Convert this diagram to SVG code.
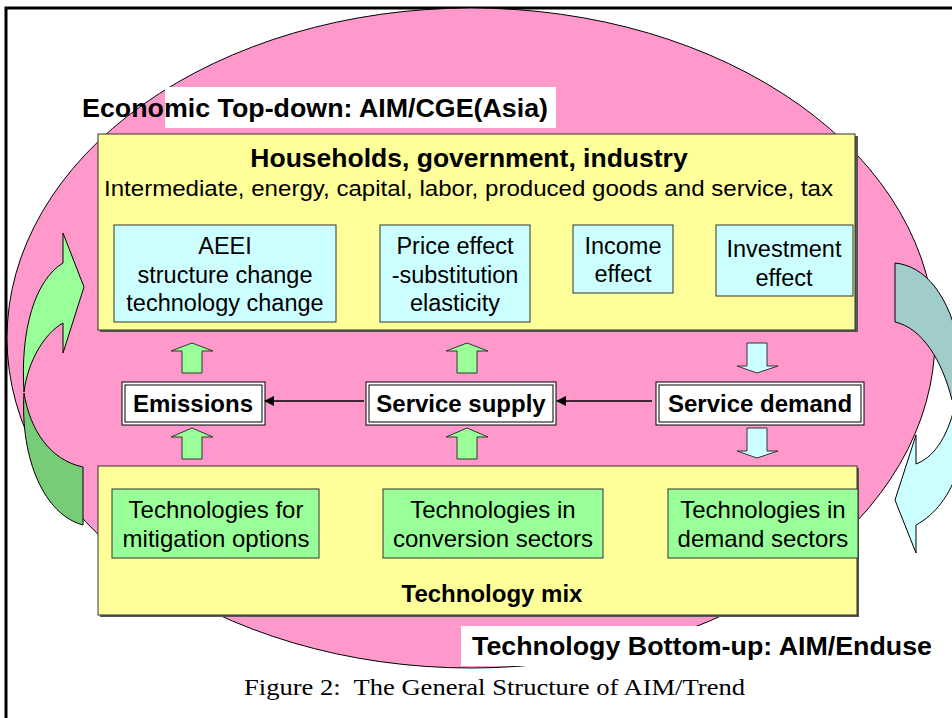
<svg xmlns="http://www.w3.org/2000/svg" width="952" height="718" viewBox="0 0 952 718">
<style>
.sans{font-family:"Liberation Sans",Arial,sans-serif;fill:#000}
.b{font-weight:bold}
.yel{fill:#FFFF99;stroke:#333;stroke-width:1}
.cy{fill:#CCFFFF;stroke:#333;stroke-width:1}
.gr{fill:#99FF99;stroke:#333;stroke-width:1}
.blk{fill:#fff;stroke:#000;stroke-width:1}
.bt{font-size:23.5px;text-anchor:middle}
.tt{font-size:24px;text-anchor:middle}
.conn{stroke:#000;stroke-width:1.5;fill:none}
</style>
<defs>
<marker id="ah" markerWidth="10" markerHeight="10" refX="9" refY="5" orient="auto" markerUnits="userSpaceOnUse">
<path d="M0,0 L10,5 L0,10 Z" fill="#000"/>
</marker>
</defs>
<rect x="0" y="0" width="952" height="718" fill="#fff"/>
<rect x="6" y="8" width="960" height="720" fill="none" stroke="#000" stroke-width="3"/>
<g id="ellipse">
<ellipse cx="471" cy="338" rx="464" ry="330" fill="#FF99CC" stroke="#000" stroke-width="1"/>
</g>
<g id="left-cycle-arrow">
<path d="M83,525 L83,467 C50,460 30,430 24,393 C20,460 45,515 83,525 Z" fill="#77CC77" stroke="#000" stroke-width="1"/>
<path d="M63,263 L63,233 L84,287 L63,353 L63,323 C45,333 28,360 24,392 C20,330 35,280 63,263 Z" fill="#99FF99" stroke="#000" stroke-width="1"/>
</g>
<g id="right-cycle-arrow">
<path d="M895,263 C925,266 950,295 960,350 L990,350 L990,430 L952,400 C942,360 922,328 895,322 Z" fill="#A0CCCC" stroke="#000" stroke-width="1"/>
<path d="M955,405 C947,440 932,458 916,464 L916,435 L895,500 L916,553 L916,525 C935,515 950,495 958,470 L990,470 L990,405 Z" fill="#CCFFFF" stroke="#000" stroke-width="1"/>
</g>
<g id="label-topdown">
<rect x="165" y="87" width="391" height="41" fill="#fff"/>
<text class="sans b" x="82" y="117" font-size="26" textLength="466" lengthAdjust="spacingAndGlyphs">Economic Top-down: AIM/CGE(Asia)</text>
</g>
<g id="top-box">
<rect x="100" y="136" width="758" height="196" fill="#555"/>
<rect x="98" y="134" width="757" height="196" class="yel"/>
<text class="sans b" x="469" y="167" font-size="26.5" text-anchor="middle">Households, government, industry</text>
<text class="sans" x="104" y="196" font-size="22.5" textLength="729" lengthAdjust="spacingAndGlyphs">Intermediate, energy, capital, labor, produced goods and service, tax</text>
</g>
<g id="aeei">
<rect x="114" y="225" width="222" height="97" class="cy"/>
<text class="sans bt" x="225" y="254">AEEI</text>
<text class="sans bt" x="225" y="283">structure change</text>
<text class="sans bt" x="225" y="311">technology change</text>
</g>
<g id="price">
<rect x="380" y="225" width="150" height="97" class="cy"/>
<text class="sans bt" x="455" y="254">Price effect</text>
<text class="sans bt" x="455" y="283">-substitution</text>
<text class="sans bt" x="455" y="311">elasticity</text>
</g>
<g id="income">
<rect x="573" y="225" width="100" height="68" class="cy"/>
<text class="sans bt" x="623" y="254">Income</text>
<text class="sans bt" x="623" y="282">effect</text>
</g>
<g id="investment">
<rect x="716" y="225" width="137" height="71" class="cy"/>
<text class="sans bt" x="784" y="257">Investment</text>
<text class="sans bt" x="784" y="286">effect</text>
</g>
<g id="block-arrows">
<path d="M192,343 L213,351 L202,351 L202,373 L182,373 L182,351 L171,351 Z" class="gr"/>
<path d="M192,428 L213,437 L202,437 L202,459 L182,459 L182,437 L171,437 Z" class="gr"/>
<path d="M467,343 L488,351 L477,351 L477,373 L457,373 L457,351 L446,351 Z" class="gr"/>
<path d="M467,428 L488,437 L477,437 L477,459 L457,459 L457,437 L446,437 Z" class="gr"/>
<path d="M747,343 L767,343 L767,366 L778,366 L757,373 L737,366 L747,366 Z" class="cy"/>
<path d="M747,428 L767,428 L767,451 L778,451 L757,458 L737,451 L747,451 Z" class="cy"/>
</g>
<g id="emissions">
<rect x="122" y="382" width="143" height="43" class="blk"/>
<rect x="125" y="385" width="137" height="37" class="blk"/>
<text class="sans b tt" x="193" y="412">Emissions</text>
</g>
<g id="service-supply">
<rect x="366" y="382" width="190" height="43" class="blk"/>
<rect x="369" y="385" width="184" height="37" class="blk"/>
<text class="sans b tt" x="461" y="412">Service supply</text>
</g>
<g id="service-demand">
<rect x="656" y="382" width="208" height="43" class="blk"/>
<rect x="659" y="385" width="202" height="37" class="blk"/>
<text class="sans b tt" x="760" y="412">Service demand</text>
</g>
<g id="connectors">
<line x1="652" y1="401" x2="557" y2="401" class="conn" marker-end="url(#ah)"/>
<line x1="364" y1="401" x2="265" y2="401" class="conn" marker-end="url(#ah)"/>
</g>
<g id="bottom-box">
<rect x="100" y="468" width="759" height="149" fill="#555"/>
<rect x="98" y="466" width="759" height="149" class="yel"/>
<text class="sans b tt" x="492" y="602">Technology mix</text>
</g>
<g id="tech-mitigation">
<rect x="112" y="489" width="207" height="69" class="gr"/>
<text class="sans tt" x="216" y="518">Technologies for</text>
<text class="sans tt" x="216" y="547">mitigation options</text>
</g>
<g id="tech-conversion">
<rect x="383" y="489" width="220" height="69" class="gr"/>
<text class="sans tt" x="493" y="518">Technologies in</text>
<text class="sans tt" x="493" y="547">conversion sectors</text>
</g>
<g id="tech-demand">
<rect x="668" y="489" width="190" height="69" class="gr"/>
<text class="sans tt" x="763" y="518">Technologies in</text>
<text class="sans tt" x="763" y="547">demand sectors</text>
</g>
<g id="label-bottomup">
<rect x="461" y="626" width="491" height="40" fill="#fff"/>
<text class="sans b" x="472" y="655" font-size="26" textLength="460" lengthAdjust="spacingAndGlyphs">Technology Bottom-up: AIM/Enduse</text>
</g>
<text x="244" y="695" font-family="'Liberation Serif','Times New Roman',serif" font-size="24" textLength="501" lengthAdjust="spacingAndGlyphs" xml:space="preserve">Figure 2:  The General Structure of AIM/Trend</text>
</svg>
